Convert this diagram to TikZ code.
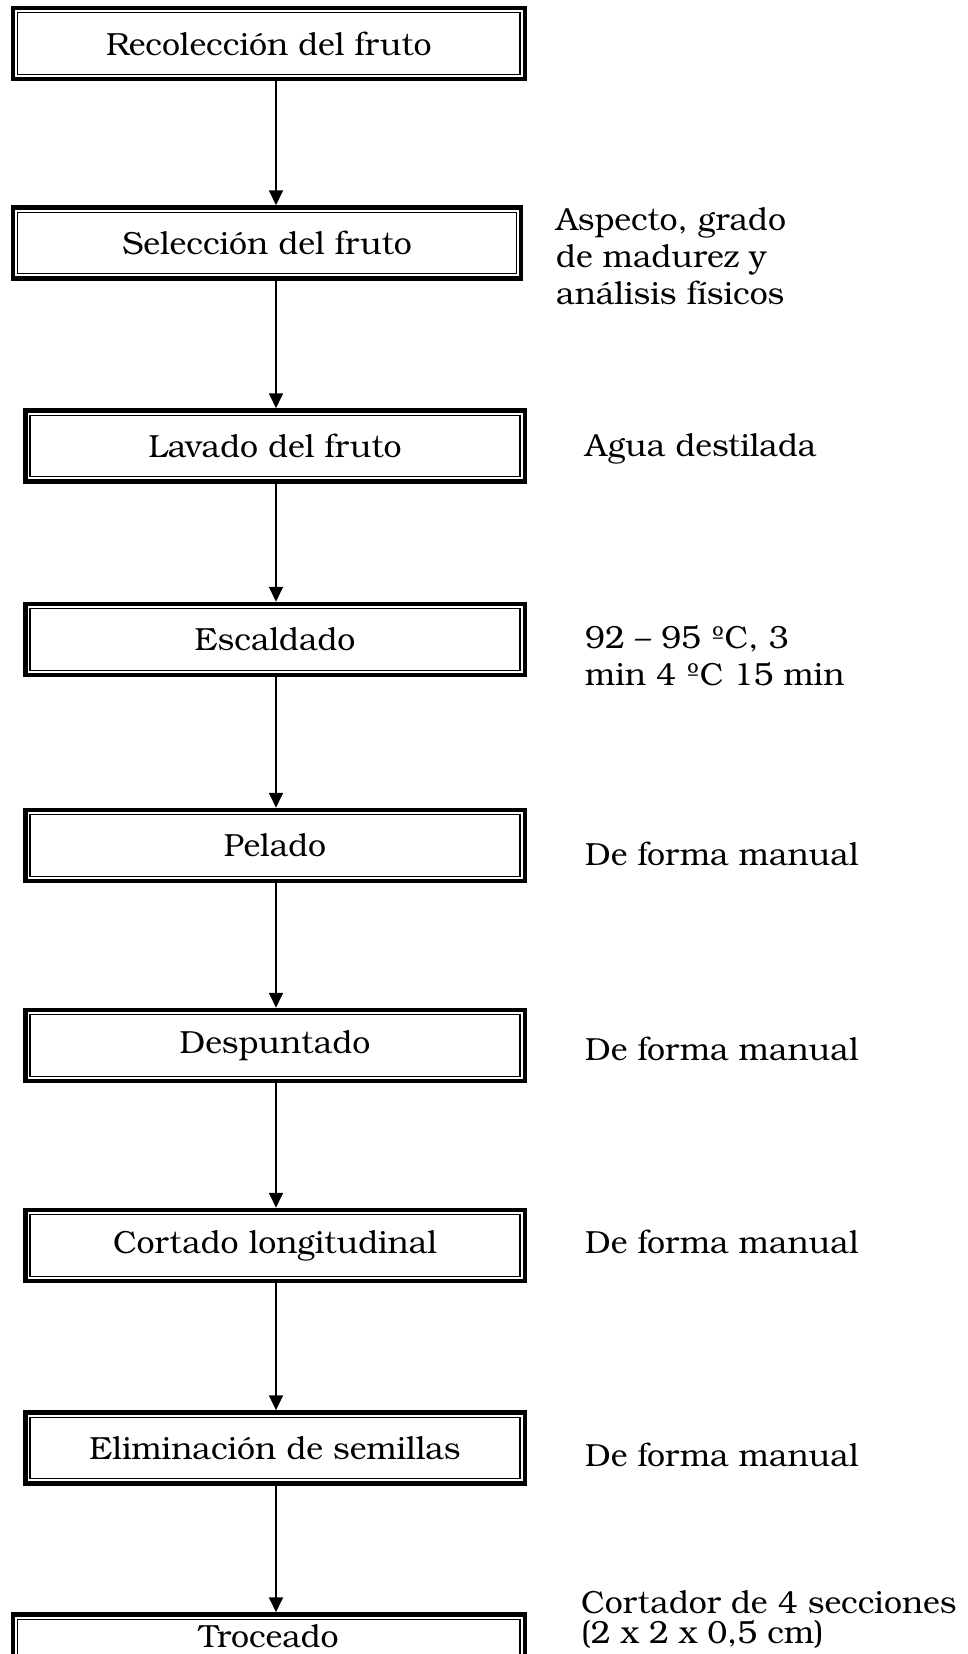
\documentclass[tikz,border=0pt]{standalone}
\usepackage{fontspec}
\setmainfont{TeX Gyre Bonum}
\usetikzlibrary{arrows.meta}
\begin{document}
\begin{tikzpicture}[x=1pt,y=-1pt,
  stepbox/.style={draw, line width=4.5pt, minimum height=71pt, inner sep=0pt, font=\fontsize{32}{37}\selectfont},
  note/.style={anchor=west, align=left, inner sep=0pt, font=\fontsize{32}{37}\selectfont},
  conn/.style={line width=1.8pt, -{Triangle[length=15pt,width=14pt]}},
  innerline/.style={line width=1.2pt}]
\useasboundingbox (0,0) rectangle (968,1654);
\coordinate (ax) at (276,0);
\node[stepbox, minimum width=512pt] (b1) at (268.75,43.5) {Recolección del fruto};
\node[stepbox, minimum width=508pt] (b2) at (267,243) {Selección del fruto};
\node[stepbox, minimum width=499.5pt] (b3) at (275,446) {Lavado del fruto};
\node[stepbox, minimum width=499.5pt] (b4) at (275,639.5) {Escaldado};
\node[stepbox, minimum width=499.5pt] (b5) at (275,845.5) {Pelado};
\node[stepbox, minimum width=499.5pt] (b6) at (275,1045.5) {Despuntado};
\node[stepbox, minimum width=499.5pt] (b7) at (275,1245.5) {Cortado longitudinal};
\node[stepbox, minimum width=499.5pt] (b8) at (275,1448) {Eliminación de semillas};
\node[stepbox, minimum width=512pt, text height=20pt, text depth=26pt] (b9) at (268.75,1650) {Troceado};
\foreach \n in {b1,b2,b3,b4,b5,b6,b7,b8,b9}
  \draw[innerline] ([shift={(7pt,-7pt)}]\n.north west) rectangle ([shift={(-7pt,7pt)}]\n.south east);
\draw[conn] (b1.south -| ax) -- (b2.north -| ax);
\draw[conn] (b2.south -| ax) -- (b3.north -| ax);
\draw[conn] (b3.south -| ax) -- (b4.north -| ax);
\draw[conn] (b4.south -| ax) -- (b5.north -| ax);
\draw[conn] (b5.south -| ax) -- (b6.north -| ax);
\draw[conn] (b6.south -| ax) -- (b7.north -| ax);
\draw[conn] (b7.south -| ax) -- (b8.north -| ax);
\draw[conn] (b8.south -| ax) -- (b9.north -| ax);
\node[note] (n2) at (556,256) {Aspecto, grado\\de madurez y\\análisis físicos};
\node[note] (n3) at (585,449) {Agua destilada};
\node[note] (n4) at (585,656) {92 – 95 ºC, 3\\min 4 ºC 15 min};
\node[note] (n5) at (585,854) {De forma manual};
\node[note] (n6) at (585,1049) {De forma manual};
\node[note] (n7) at (585,1242) {De forma manual};
\node[note] (n8) at (585,1455) {De forma manual};
\node[note, font=\fontsize{32}{30}\selectfont] (n9) at (581,1619) {Cortador de 4 secciones\\(2 x 2 x 0,5 cm)};
\end{tikzpicture}
\end{document}
